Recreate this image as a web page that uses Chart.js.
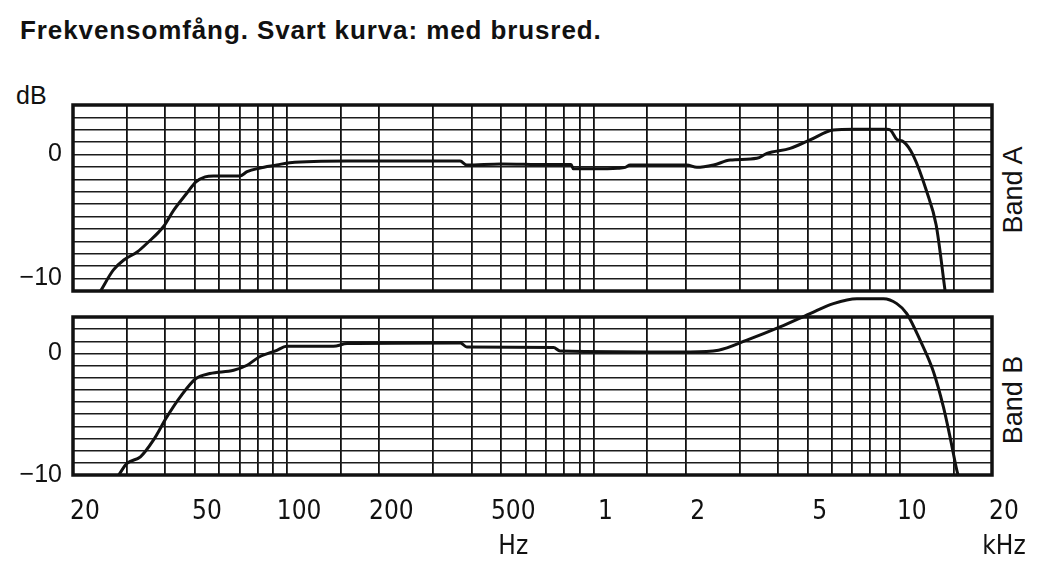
<!DOCTYPE html>
<html>
<head>
<meta charset="utf-8">
<script src="https://cdn.jsdelivr.net/npm/chart.js@4.4.0/dist/chart.umd.min.js"></script>
<style>
  html, body { margin: 0; padding: 0; background: #fff; }
  #wrap { position: relative; width: 1041px; height: 562px; overflow: hidden; color: #111;
          font-family: 'Liberation Sans', Arial, sans-serif; }
  #wrap canvas { position: absolute; left: 0; }
  .title { position: absolute; left: 20px; top: 17px; font-size: 26px; line-height: 26px;
           font-weight: bold; letter-spacing: 0.9px; white-space: nowrap; }
  .unit { position: absolute; left: 16px; top: 83px; font-size: 25px; line-height: 25px; }
  .band { position: absolute; left: 953px; width: 120px; height: 30px; line-height: 30px;
          text-align: center; font-size: 27px; transform: rotate(-90deg); white-space: nowrap; }
</style>
</head>
<body>
<div id="wrap">
  <div class="title">Frekvensomfång. Svart kurva: med brusred.</div>
  <div class="unit">dB</div>
  <div class="band" style="top: 175px;">Band A</div>
  <div class="band" style="top: 385px;">Band B</div>
  <canvas id="bandA" width="1041" height="300" style="top: 0;"></canvas>
  <canvas id="bandB" width="1041" height="272" style="top: 290px;"></canvas>
</div>
<script>
// rutnät och axeltexter (Hz)
const gridFreqs = [20, 30, 40, 50, 60, 70, 80, 90, 100, 150, 200, 300, 400, 500, 600, 700, 800, 900,
  1000, 1500, 2000, 3000, 4000, 5000, 6000, 7000, 8000, 9000, 10000, 15000, 20000];
const tickFreqs = [20, 50, 100, 200, 500, 1000, 2000, 5000, 10000, 20000];
const tickTexts = ['20', '50', '100', '200', ['500', 'Hz'], '1', '2', '5', '10', ['20', 'kHz']];

// Band A: frekvens (Hz) och nivå (dB)
const freqA = [24.6, 27.1, 29.3, 32.4, 34.9, 39.5, 42.6, 47.1, 50.4, 54, 57.5, 70, 74, 81, 92.6, 102,
  157, 367, 386, 500, 700, 845, 860, 1000, 1200, 1269, 1318, 2017, 2175, 2466, 2795, 3415, 3683,
  4386, 5093, 6070, 7064, 9072, 9300, 9780, 10280, 11080, 12250, 13150, 14060];
const levelA = [-11, -9.3, -8.5, -7.85, -7.15, -5.8, -4.5, -3.1, -2.2, -1.8, -1.73, -1.73, -1.38, -1.1, -0.84, -0.65,
  -0.52, -0.52, -0.84, -0.75, -0.8, -0.8, -1.15, -1.15, -1.1, -1.03, -0.84, -0.84, -1.03, -0.84, -0.44, -0.3, 0.1,
  0.5, 1.18, 1.98, 2.04, 2.04, 2.0, 1.23, 1.04, -0.1, -3.0, -5.7, -11];

// Band B
const freqB = [28.2, 30, 33.2, 36.6, 40.5, 44.8, 50.4, 56, 66.9, 74, 81, 92.6, 99.5, 141.6, 157,
  368, 386, 741, 778, 2069, 2559, 3168, 4067, 5093, 6070, 7244, 8845, 9780, 10540, 11650,
  12880, 13880, 14600, 15350, 15500];
const levelB = [-10, -9.05, -8.5, -7.13, -5.22, -3.57, -2.06, -1.65, -1.38, -0.97, -0.29, 0.26, 0.59, 0.59, 0.81,
  0.86, 0.53, 0.49, 0.2, 0.12, 0.26, 1.09, 2.18, 3.28, 4.1, 4.5, 4.5, 4.1, 3.28, 1.09,
  -1.5, -4.4, -6.9, -9.6, -10];

const INK = '#111';

function useGridTicks(scale) {
  scale.ticks = gridFreqs.map(v => ({ value: v }));
}

// fast axelstorlek så att båda diagrammen får samma rityta
function fixedSize(size) {
  return scale => {
    if (scale.isHorizontal()) scale.height = size; else scale.width = size;
    scale.paddingLeft = scale.paddingRight = scale.paddingTop = scale.paddingBottom = 0;
  };
}

const frame = {
  id: 'frame',
  beforeDatasetsDraw(chart) {
    const { ctx, chartArea: a } = chart;
    ctx.save();
    ctx.strokeStyle = INK;
    ctx.lineWidth = 3.5;
    ctx.strokeRect(a.left, a.top, a.right - a.left, a.bottom - a.top);
    ctx.restore();
  }
};

function panel(id, freqs, levels, yMin, yMax, showX, pad) {
  return new Chart(document.getElementById(id), {
    type: 'line',
    data: {
      datasets: [{
        data: freqs.map((f, i) => ({ x: f, y: levels[i] })),
        borderColor: INK,
        borderWidth: 3,
        pointRadius: 0,
        cubicInterpolationMode: 'monotone',
        clip: false
      }]
    },
    options: {
      responsive: false,
      animation: false,
      events: [],
      layout: { padding: pad },
      plugins: { legend: { display: false }, tooltip: { enabled: false } },
      scales: {
        x: {
          type: 'logarithmic',
          min: 20,
          max: 20000,
          afterBuildTicks: useGridTicks,
          afterFit: fixedSize(showX ? 87 : 0),
          grid: { color: INK, lineWidth: 1.8, drawTicks: false },
          border: { display: false },
          ticks: {
            display: showX,
            autoSkip: false,
            maxRotation: 0,
            labelOffset: 12,
            padding: 20,
            color: INK,
            font: { family: "'Liberation Sans Narrow', 'DejaVu Sans Condensed', 'Liberation Sans', sans-serif", size: 26, lineHeight: 1.35 },
            callback: v => {
              const i = tickFreqs.indexOf(v);
              return i < 0 ? '' : tickTexts[i];
            }
          }
        },
        y: {
          min: yMin,
          max: yMax,
          afterFit: fixedSize(73),
          grid: { color: '#1c1c1c', lineWidth: 1.5, drawTicks: false },
          border: { display: false },
          ticks: {
            stepSize: 1,
            autoSkip: false,
            padding: 11,
            color: INK,
            font: { family: "'Liberation Sans', Arial, sans-serif", size: 25 },
            callback: v => v === 0 ? '0' : v === -10 ? '−10' : ''
          }
        }
      }
    },
    plugins: [frame]
  });
}

panel('bandA', freqA, levelA, -11, 4, false, { left: 0, right: 49, top: 105, bottom: 9 });
panel('bandB', freqB, levelB, -10, 3, true, { left: 0, right: 49, top: 27, bottom: 0 });
</script>
</body>
</html>
